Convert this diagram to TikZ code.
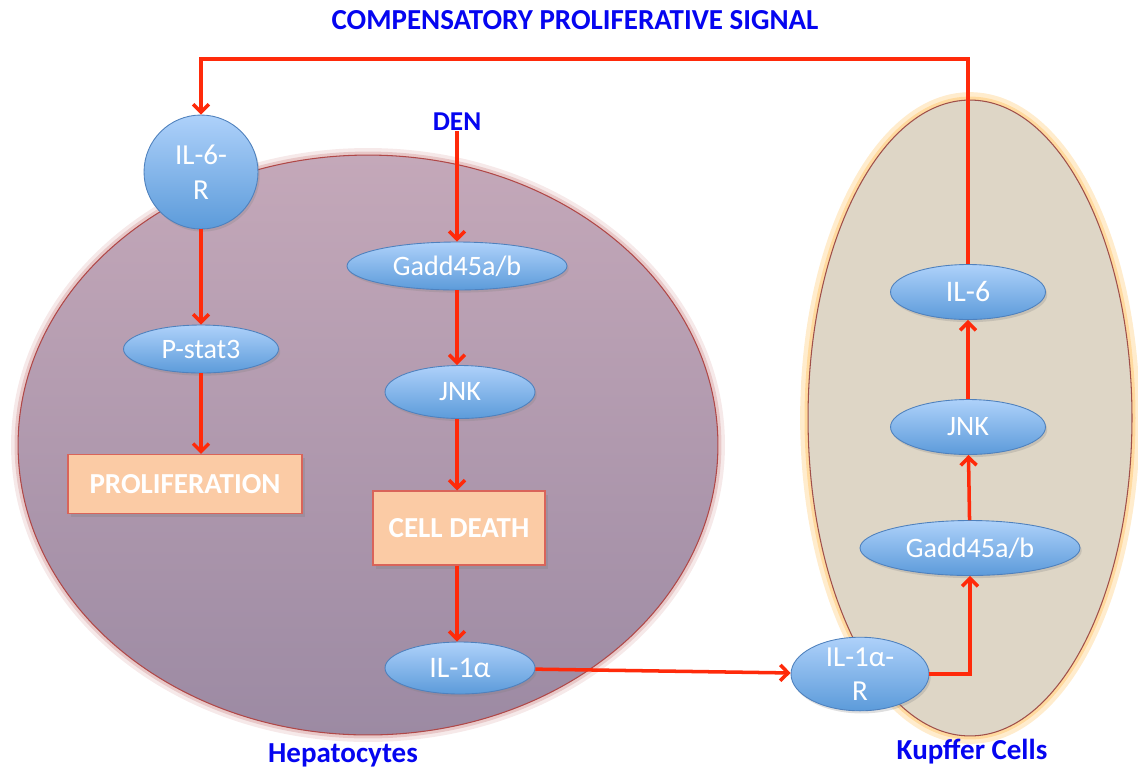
\documentclass[tikz,border=0pt]{standalone}
\usepackage{fontspec}
\setmainfont{Carlito}
\usetikzlibrary{shapes.geometric,arrows.meta,shadows}
\definecolor{sigred}{HTML}{FF2A0A}
\definecolor{sigblue}{HTML}{0505F0}
\definecolor{cellblue}{HTML}{4F81BD}
\definecolor{celltop}{HTML}{AED1FA}
\definecolor{cellbot}{HTML}{5C9BDA}
\definecolor{boxfill}{HTML}{FBCBA5}
\definecolor{boxline}{HTML}{D9645A}
\definecolor{heptop}{HTML}{C4A8B9}
\definecolor{hepbot}{HTML}{9C8AA3}
\definecolor{hepline}{HTML}{B04848}
\definecolor{kupfill}{HTML}{DED6C6}
\definecolor{kupline}{HTML}{A0504A}
\definecolor{kupglow}{HTML}{FFC870}
\tikzset{
  sig/.style={draw=sigred,line width=2pt,-{Straight Barb[length=4.5pt,width=9pt,line width=2pt]}},
  mol/.style={ellipse,draw=cellblue,line width=0.5pt,top color=celltop,bottom color=cellbot,
    text=white,inner sep=0pt,font=\fontsize{16}{20}\selectfont,align=center,
    drop shadow={opacity=0.25,shadow xshift=1pt,shadow yshift=-1.5pt}},
  fate/.style={rectangle,draw=boxline,line width=0.6pt,fill=boxfill,text=white,
    font=\bfseries\fontsize{16.5}{19}\selectfont,inner sep=0pt,
    drop shadow={opacity=0.3,shadow xshift=1.5pt,shadow yshift=-2pt}},
  tag/.style={text=sigblue,font=\bfseries\fontsize{16.5}{18}\selectfont,inner sep=0pt}
}
\begin{document}
\begin{tikzpicture}[x=0.02cm,y=-0.02cm]
\useasboundingbox (0,0) rectangle (1138,772);
% hepatocyte cell
\draw[hepline!60,line width=8pt,opacity=0.2] (368,445) ellipse [x radius=7cm,y radius=5.8cm];
\draw[hepline!70,line width=4pt,opacity=0.3] (368,445) ellipse [x radius=7cm,y radius=5.8cm];
\shade[top color=heptop,bottom color=hepbot] (368,445) ellipse [x radius=7cm,y radius=5.8cm];
\draw[hepline,line width=0.6pt] (368,445) ellipse [x radius=7cm,y radius=5.8cm];
% kupffer cell
\draw[kupglow,line width=9pt,opacity=0.35] (970,418) ellipse [x radius=3.24cm,y radius=6.36cm];
\draw[kupglow,line width=4pt,opacity=0.5] (970,418) ellipse [x radius=3.24cm,y radius=6.36cm];
\fill[kupfill] (970,418) ellipse [x radius=3.24cm,y radius=6.36cm];
\draw[kupline,line width=0.6pt] (970,418) ellipse [x radius=3.24cm,y radius=6.36cm];

\node[tag] (title) at (575,20) {COMPENSATORY PROLIFERATIVE SIGNAL};
\node[tag] (hep) at (343,755) {Hepatocytes};
\node[tag] (kup) at (972,752) {Kupffer Cells};
\node[tag,font=\bfseries\fontsize{15.5}{18}\selectfont] (den) at (457,122) {DEN};

% hepatocyte side
\node[mol,circle,minimum size=2.28cm,font=\fontsize{16.5}{20}\selectfont] (il6r) at (201,172) {IL-6-\\R};
\node[mol,minimum width=3.1cm,minimum height=0.96cm] (pstat) at (201,349) {P-stat3};
\node[fate,minimum width=4.68cm,minimum height=1.18cm] (prolif) at (185,484) {PROLIFERATION};
\node[mol,minimum width=4.4cm,minimum height=0.96cm] (gaddL) at (457,266) {Gadd45a/b};
\node[mol,minimum width=3.0cm,minimum height=1.06cm] (jnkL) at (460,392) {JNK};
\node[fate,minimum width=3.44cm,minimum height=1.48cm] (death) at (459,528) {CELL DEATH};
\node[mol,minimum width=3.0cm,minimum height=1.04cm,font=\fontsize{17}{20}\selectfont] (il1a) at (460,668) {IL-1α};

% kupffer side
\node[mol,minimum width=2.76cm,minimum height=1.44cm,font=\fontsize{16.5}{19}\selectfont] (il1ar) at (860,674) {IL-1α-\\R};
\node[mol,minimum width=4.4cm,minimum height=1.1cm] (gaddR) at (970,548) {Gadd45a/b};
\node[mol,minimum width=3.1cm,minimum height=1.1cm] (jnkR) at (968,427) {JNK};
\node[mol,minimum width=3.1cm,minimum height=1.1cm,font=\fontsize{17}{20}\selectfont] (il6) at (968,292) {IL-6};
\coordinate (sigtop) at (585,59);

% arrows
\draw[sig] (il6r) -- (pstat);
\draw[sig] (pstat.south) -- (pstat.south |- prolif.north);
\draw[sig] (den) -- (den |- gaddL.north);
\draw[sig] (den |- gaddL.south) -- (den |- jnkL.north);
\draw[sig] (den |- jnkL.south) -- (den |- death.north);
\draw[sig] (den |- death.south) -- (den |- il1a.north);
\draw[sig] (il1a) -- (il1ar);
\draw[sig] (il1ar.east) -| (gaddR.south);
\draw[sig] (gaddR) -- (jnkR);
\draw[sig] (jnkR) -- (il6);
\draw[sig] (il6.north) |- (sigtop) -| (il6r.north);
\end{tikzpicture}
\end{document}
